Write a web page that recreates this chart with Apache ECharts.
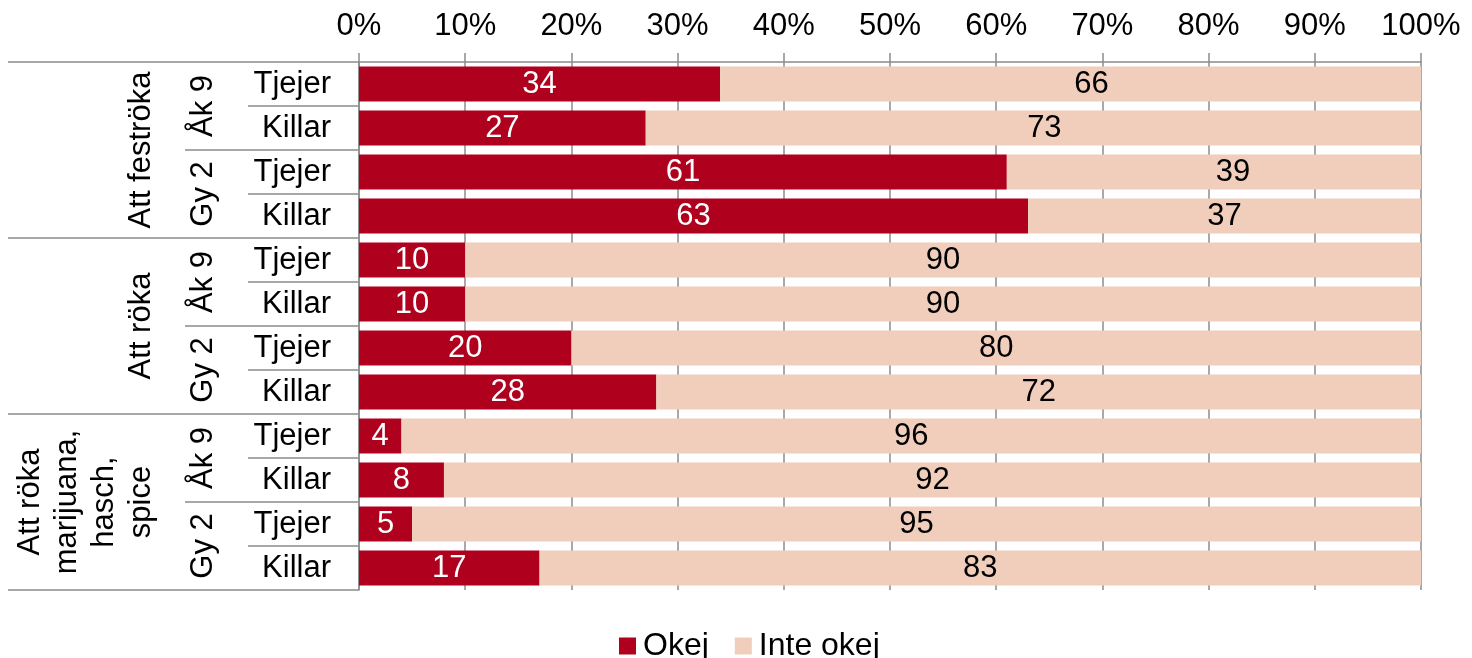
<!DOCTYPE html>
<html>
<head>
<meta charset="utf-8">
<script src="https://cdn.jsdelivr.net/npm/echarts@6/dist/echarts.min.js"></script>
<style>
  html, body { margin: 0; padding: 0; background: #ffffff; }
  #chart { width: 1472px; height: 658px; }
</style>
</head>
<body>
<div id="chart"></div>
<script>
// Rows, top to bottom: substance > school year > gender
const genders = ['Tjejer', 'Killar', 'Tjejer', 'Killar', 'Tjejer', 'Killar',
                 'Tjejer', 'Killar', 'Tjejer', 'Killar', 'Tjejer', 'Killar'];
const years = ['Åk 9', 'Gy 2', 'Åk 9', 'Gy 2', 'Åk 9', 'Gy 2'];
const topics = ['Att feströka', 'Att röka', 'Att röka\nmarijuana,\nhasch,\nspice'];

const okej =      [34, 27, 61, 63, 10, 10, 20, 28, 4, 8, 5, 17];
const inteOkej =  [66, 73, 39, 37, 90, 90, 80, 72, 96, 92, 95, 83];

const seriesNames = ['Okej', 'Inte okej'];
const xTicks = [0, 10, 20, 30, 40, 50, 60, 70, 80, 90, 100];

// horizontal nudges (px) for a few "Inte okej" value labels
const inteOkejLabelShift = [21, 11, 19, 0, 0, 0, 0, 0, 0, 0, 0, 0];

const FONT = '"Liberation Sans", Arial, sans-serif';
const FS = 31;
const LINE = '#8c8c8c';
const RED = '#AF001E';
const PEACH = '#F0CEBB';

const chart = echarts.init(document.getElementById('chart'), null, { renderer: 'canvas' });

function levelAxis(data, tickLen, labelOpts) {
  return {
    type: 'category',
    data: data,
    inverse: true,
    position: 'left',
    axisLine: { show: false },
    axisTick: { show: true, interval: 0, length: tickLen, lineStyle: { color: LINE, width: 1.5 } },
    axisLabel: Object.assign({ interval: 0, color: '#000', fontFamily: FONT, fontSize: FS }, labelOpts),
    splitLine: { show: false }
  };
}

const option = {
  animation: false,
  textStyle: { fontFamily: FONT },
  grid: { left: 359, right: 51, top: 62, bottom: 68, containLabel: false },
  legend: {
    data: seriesNames,
    left: 614,
    top: 625,
    icon: 'rect',
    itemWidth: 17,
    itemHeight: 17,
    itemGap: 26,
    textStyle: { fontSize: 32, color: '#000', fontFamily: FONT, padding: [0, 0, 0, 2] }
  },
  xAxis: {
    type: 'value',
    position: 'top',
    min: xTicks[0],
    max: xTicks[xTicks.length - 1],
    interval: 10,
    axisLine: { show: true, lineStyle: { color: LINE, width: 1.5 } },
    axisTick: { show: true, length: 9, lineStyle: { color: LINE, width: 1.5 } },
    axisLabel: { formatter: '{value}%', fontSize: FS, color: '#000', fontFamily: FONT, margin: 20 },
    splitLine: { show: true, lineStyle: { color: LINE, width: 1.5 } }
  },
  yAxis: [
    Object.assign(levelAxis(genders, 111, { margin: 28 }), {
      axisLine: { show: true, lineStyle: { color: LINE, width: 1.5 } }
    }),
    levelAxis(years, 174, { rotate: 90, margin: 140 }),
    levelAxis(topics, 351, { rotate: 90, margin: 199, lineHeight: 37, align: 'center' })
  ],
  series: [
    {
      name: seriesNames[0],
      type: 'bar',
      stack: 'total',
      yAxisIndex: 0,
      barCategoryGap: '20%',
      itemStyle: { color: RED },
      label: { show: true, position: 'inside', color: '#fff', fontSize: FS, fontFamily: FONT },
      data: okej
    },
    {
      name: seriesNames[1],
      type: 'bar',
      stack: 'total',
      yAxisIndex: 0,
      barCategoryGap: '20%',
      itemStyle: { color: PEACH },
      label: { show: true, position: 'inside', color: '#000', fontSize: FS, fontFamily: FONT },
      data: inteOkej.map((v, i) => ({ value: v, label: { offset: [inteOkejLabelShift[i], 0] } }))
    }
  ]
};

chart.setOption(option);
</script>
</body>
</html>
